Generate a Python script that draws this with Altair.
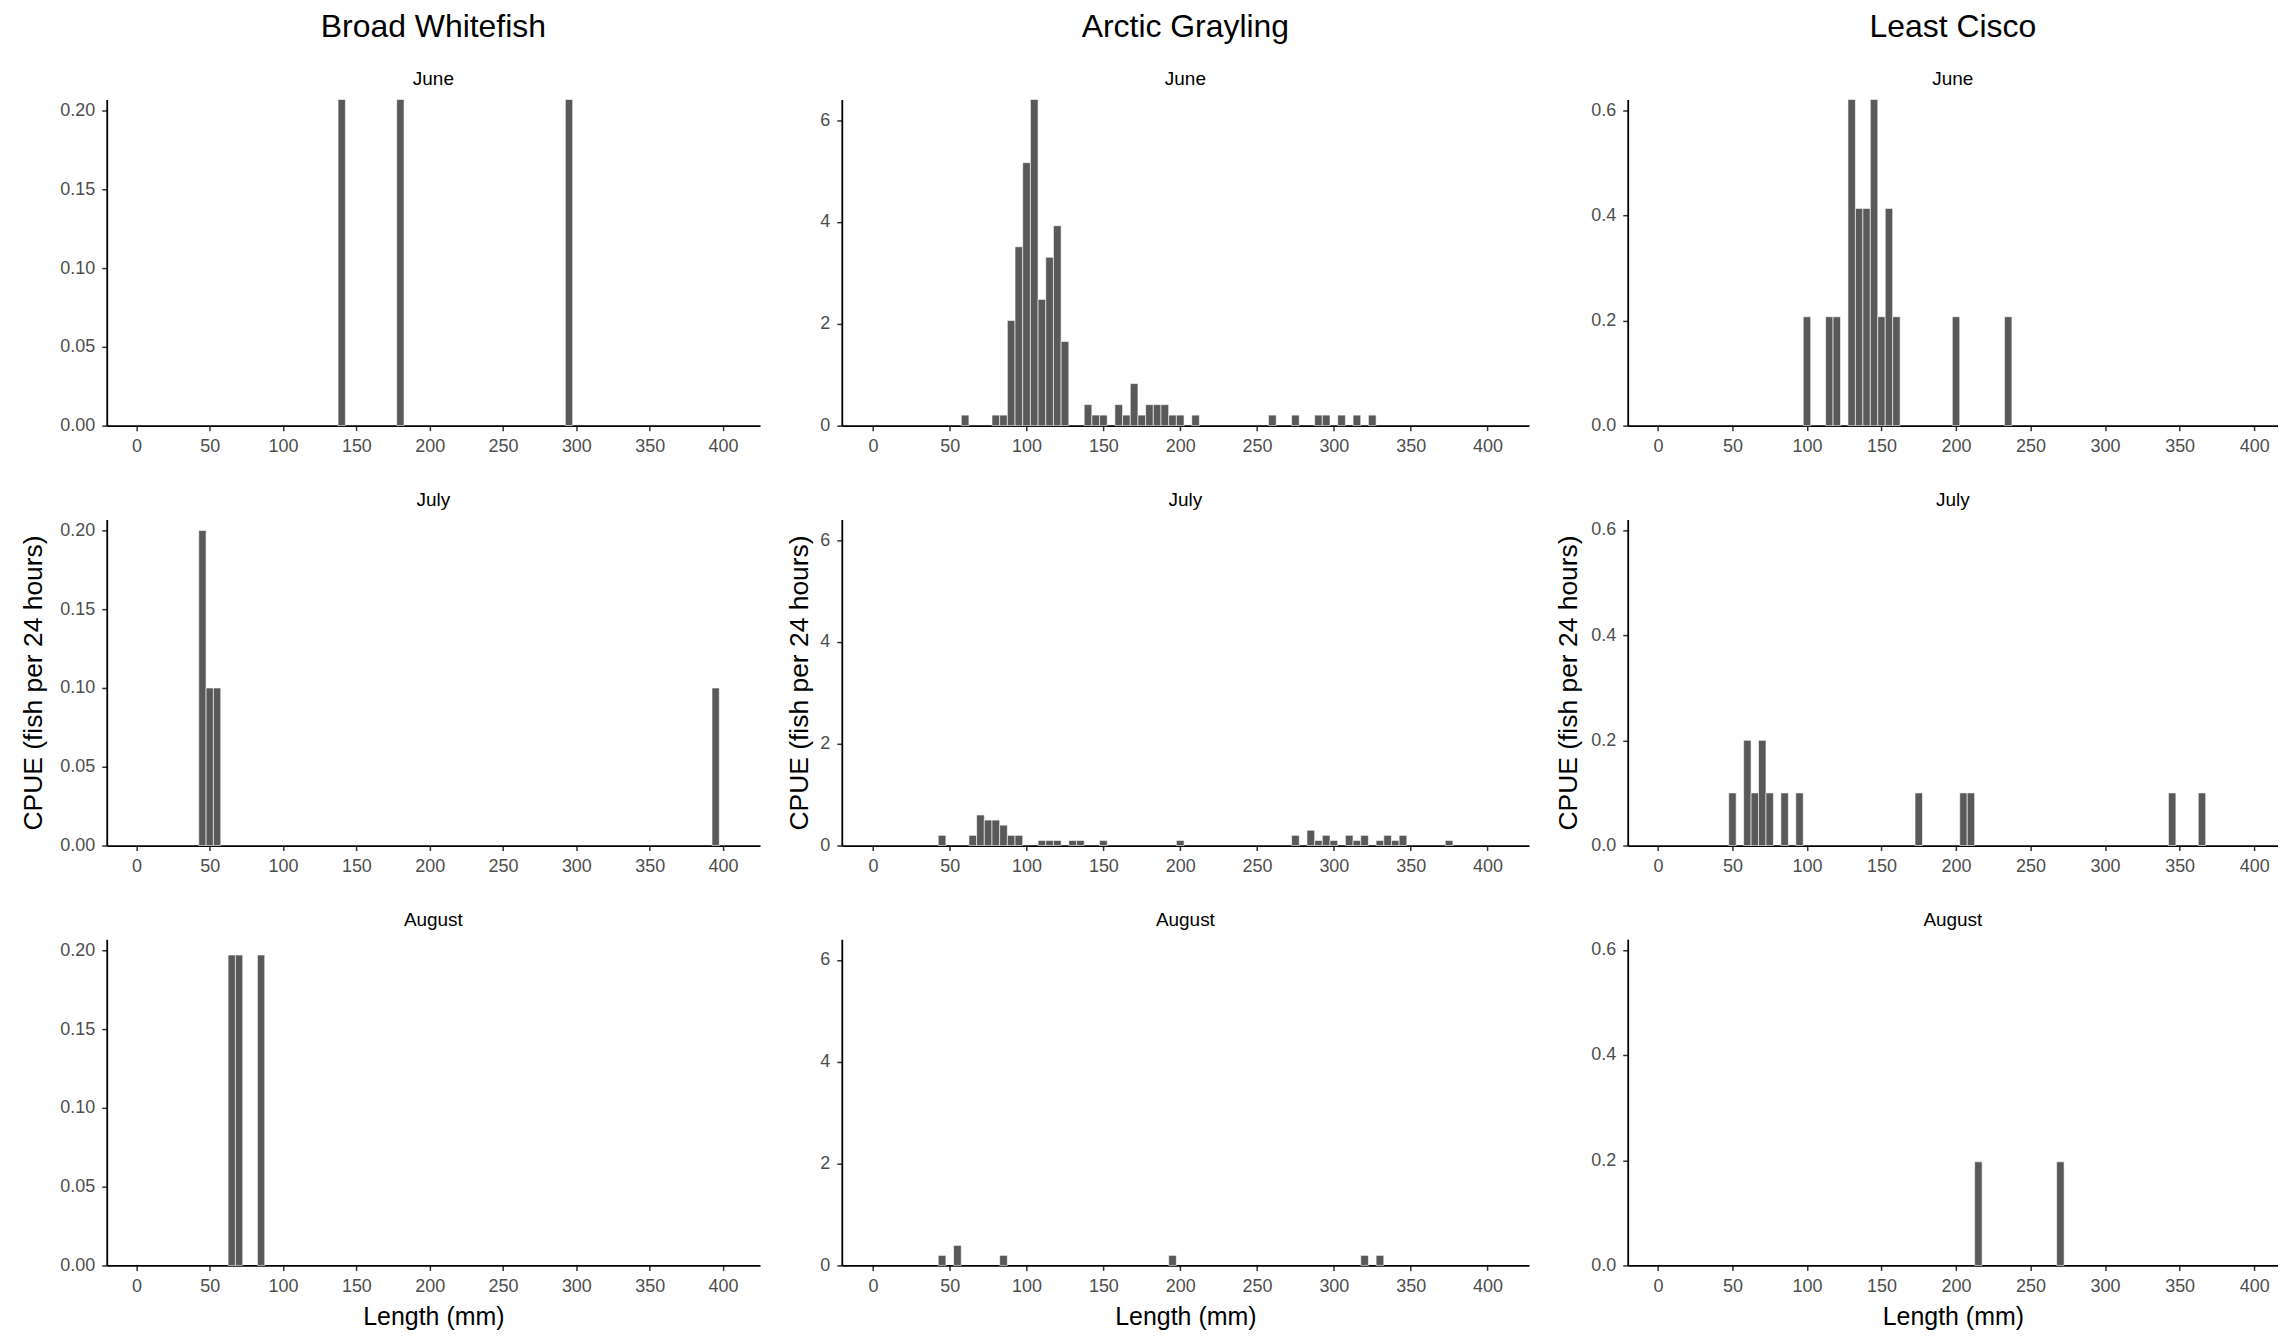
import altair as alt
import pandas as pd

FONT = "Liberation Sans"
BAR = "#595959"

species = ["Broad Whitefish", "Arctic Grayling", "Least Cisco"]
months = ["June", "July", "August"]

# ---- Broad Whitefish ----
bw_june_len = [140, 180, 295]
bw_june_cpue = [0.207, 0.207, 0.207]
bw_july_len = [45, 50, 55, 395]
bw_july_cpue = [0.2, 0.1, 0.1, 0.1]
bw_aug_len = [65, 70, 85]
bw_aug_cpue = [0.197, 0.197, 0.197]

# ---- Arctic Grayling ----
ag_june_len = [60, 80, 85, 90, 95, 100, 105, 110, 115, 120, 125,
               140, 145, 150, 160, 165, 170, 175, 180, 185, 190, 195, 200,
               210, 260, 275, 290, 295, 305, 315, 325]
ag_june_cpue = [0.207, 0.207, 0.207, 2.066, 3.512, 5.165, 6.405, 2.479, 3.306, 3.926, 1.653,
                0.413, 0.207, 0.207, 0.413, 0.207, 0.826, 0.207, 0.413, 0.413, 0.413, 0.207, 0.207,
                0.207, 0.207, 0.207, 0.207, 0.207, 0.207, 0.207, 0.207]
ag_july_len = [45, 65, 70, 75, 80, 85, 90, 95, 110, 115, 120, 130, 135, 150, 200,
               275, 285, 290, 295, 300, 310, 315, 320, 330, 335, 340, 345, 375]
ag_july_cpue = [0.2, 0.2, 0.6, 0.5, 0.5, 0.4, 0.2, 0.2, 0.1, 0.1, 0.1, 0.1, 0.1, 0.1, 0.1,
                0.2, 0.3, 0.1, 0.2, 0.1, 0.2, 0.1, 0.2, 0.1, 0.2, 0.1, 0.2, 0.1]
ag_aug_len = [45, 55, 85, 195, 320, 330]
ag_aug_cpue = [0.197, 0.393, 0.197, 0.197, 0.197, 0.197]

# ---- Least Cisco ----
lc_june_len = [100, 115, 120, 130, 135, 140, 145, 150, 155, 160, 200, 235]
lc_june_cpue = [0.207, 0.207, 0.207, 0.620, 0.413, 0.413, 0.620, 0.207, 0.413, 0.207, 0.207, 0.207]
lc_july_len = [50, 60, 65, 70, 75, 85, 95, 175, 205, 210, 345, 365]
lc_july_cpue = [0.1, 0.2, 0.1, 0.2, 0.1, 0.1, 0.1, 0.1, 0.1, 0.1, 0.1, 0.1]
lc_aug_len = [215, 270]
lc_aug_cpue = [0.197, 0.197]

x_ticks = [0, 50, 100, 150, 200, 250, 300, 350, 400]
y_ticks = [[0, 0.05, 0.10, 0.15, 0.20], [0, 2, 4, 6], [0, 0.2, 0.4, 0.6]]
y_formats = [".2f", "d", ".1f"]

data = [
    [(bw_june_len, bw_june_cpue), (bw_july_len, bw_july_cpue), (bw_aug_len, bw_aug_cpue)],
    [(ag_june_len, ag_june_cpue), (ag_july_len, ag_july_cpue), (ag_aug_len, ag_aug_cpue)],
    [(lc_june_len, lc_june_cpue), (lc_july_len, lc_july_cpue), (lc_aug_len, lc_aug_cpue)],
]

widths = [655, 689, 652]
x_domains = [[-20.25, 425.25], [-20.25, 427], [-20.25, 416]]
title_x = [-65.5, -34, -51.5]
PH = 327


def panel(ci, ri):
    lens, vals = data[ci][ri]
    ymax = max(max(v) for _, v in data[ci])
    df = pd.DataFrame({"len": lens, "cpue": vals})
    is_bottom = ri == 2
    is_mid = ri == 1
    xaxis = alt.Axis(values=x_ticks, format="d", grid=False, labelPadding=7,
                     title="Length (mm)" if is_bottom else None,
                     titleFontSize=25, titleFontWeight="normal", titleColor="black",
                     titlePadding=9)
    yaxis_kwargs = dict(values=y_ticks[ci], format=y_formats[ci], grid=False,
                        labelPadding=7)
    if is_mid:
        yaxis = alt.Axis(title="CPUE (fish per 24 hours)", titleFontSize=26.5,
                         titleFontWeight="normal", titleColor="black",
                         titleX=title_x[ci], titleY=PH / 2, titleAngle=270,
                         titleBaseline="alphabetic", titleAlign="center",
                         **yaxis_kwargs)
    else:
        yaxis = alt.Axis(title=None, **yaxis_kwargs)
    if ri == 0:
        title = alt.TitleParams(text=species[ci], subtitle=months[ri], fontSize=32,
                                subtitleFontSize=19, font=FONT, subtitleFont=FONT,
                                fontWeight="normal", color="black", subtitleColor="black",
                                anchor="middle", frame="group", subtitlePadding=26,
                                offset=9)
    else:
        title = alt.TitleParams(text=months[ri], fontSize=19, font=FONT,
                                fontWeight="normal", color="black",
                                anchor="middle", frame="group", offset=9)
    ch = alt.Chart(df).transform_calculate(
        lo="datum.len - 2.5", hi="datum.len + 2.5", base="0"
    ).mark_rect(fill=BAR, stroke="white", strokeWidth=0.6).encode(
        x=alt.X("lo:Q", scale=alt.Scale(domain=x_domains[ci], nice=False, zero=False), axis=xaxis),
        x2="hi:Q",
        y=alt.Y("cpue:Q", scale=alt.Scale(domain=[0, ymax], nice=False, zero=True), axis=yaxis),
        y2="base:Q",
    ).properties(width=widths[ci], height=PH, title=title)
    return ch


cols = [alt.vconcat(*[panel(ci, ri) for ri in range(3)], spacing=94, bounds="flush")
        for ci in range(3)]

chart = alt.hconcat(*cols, spacing=26, bounds="full").properties(
    padding={"left": 12, "top": 1, "right": 0, "bottom": 0}
).configure_view(stroke=None).configure_axis(
    labelFont=FONT, titleFont=FONT, labelFontSize=18, labelColor="#4D4D4D",
    domainColor="black", domainWidth=1.8, tickColor="#333333", tickWidth=1.5,
    tickSize=5, labelPadding=5
).configure_title(font=FONT)

chart.save("out.html", embed_options={"renderer": "svg", "actions": False})
